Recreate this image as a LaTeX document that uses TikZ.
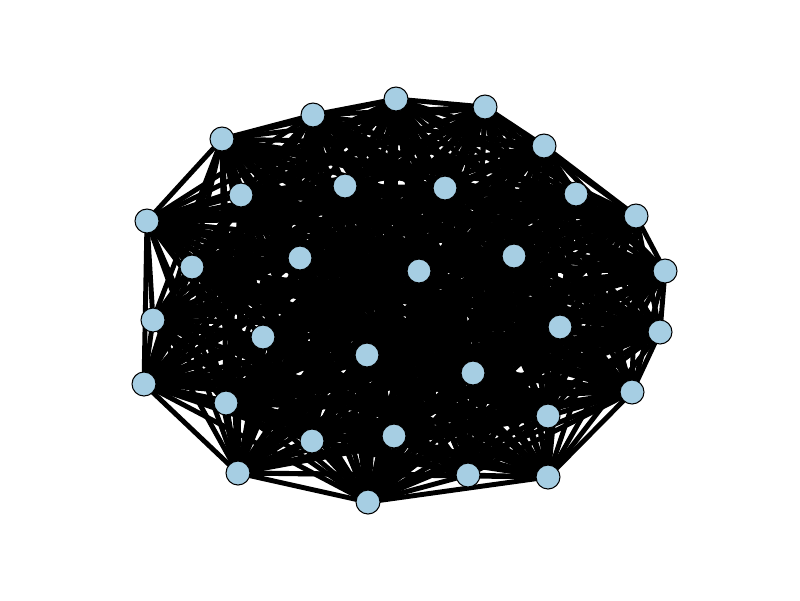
\documentclass[tikz,border=0pt]{standalone}
\usetikzlibrary{backgrounds}
\definecolor{nodeblue}{RGB}{166,206,227}
\tikzset{
  vertex/.style={circle,draw=black,line width=0.6pt,fill=nodeblue,inner sep=0pt,minimum size=0.48cm},
  link/.style={line width=2.8pt,black}
}
\begin{document}
\begin{tikzpicture}[x=0.02cm,y=-0.02cm]
		\useasboundingbox (0,0) rectangle (800,600);
		\foreach \n/\px/\py in {1/396/99, 2/485/107, 3/313/115, 4/222/139, 5/544/146, 6/345/186, 7/445/188, 8/241/195,
			9/576/194, 10/636/216, 11/147/221, 12/300/258, 13/514/256, 14/192/267, 15/419/271, 16/665/271,
			17/153/320, 18/560/327, 19/660/332, 20/263/337, 21/367/355, 22/473/373, 23/144/384, 24/632/392,
			25/226/403, 26/548/416, 27/394/436, 28/312/441, 29/238/473, 30/468/475, 31/548/477, 32/368/502}
			\node[vertex] (v\n) at (\px,\py) {};
		% every pair joined
		\begin{scope}[on background layer]
			\foreach \i in {1,...,32}
				\foreach \j in {1,...,32}
					{\ifnum\i<\j \draw[link] (v\i.center) -- (v\j.center); \fi}
		\end{scope}
	\end{tikzpicture}
\end{document}
